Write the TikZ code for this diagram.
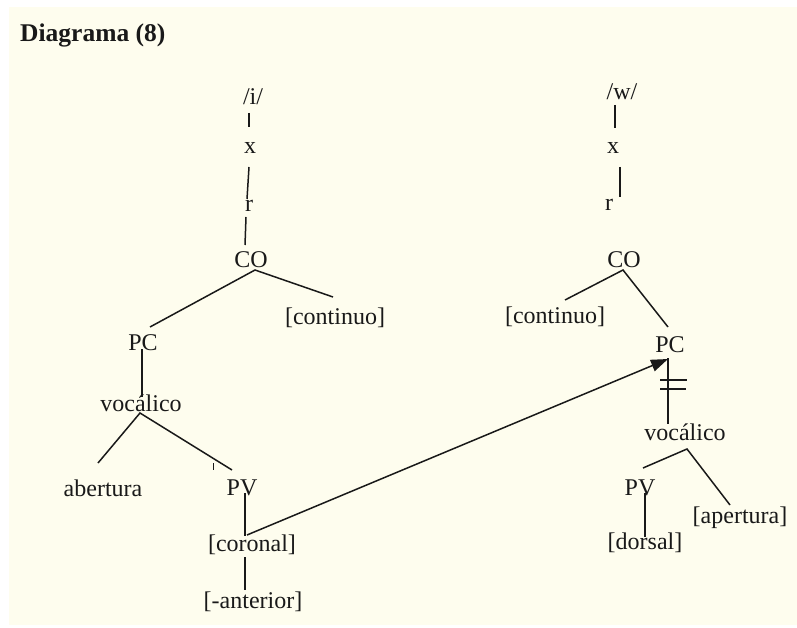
\documentclass[tikz,border=0pt]{standalone}
\usepackage{fontspec}
\setmainfont{Liberation Serif}
\usetikzlibrary{calc,arrows.meta}
\definecolor{paper}{RGB}{254,253,238}
\definecolor{ink}{RGB}{25,25,25}
\begin{document}
\begin{tikzpicture}[x=1pt,y=-1pt,
  lab/.style={inner sep=0pt,text=ink,font=\fontsize{24}{28}\selectfont},
  edge/.style={draw=ink,line width=1.5pt}]
\useasboundingbox (0,0) rectangle (797,628);
\fill[white] (0,0) rectangle (797,628);
\fill[paper] (9,7) rectangle (797,625);
\node[inner sep=0pt,anchor=base west,text=ink,font=\fontsize{25.5}{30}\selectfont\bfseries] (title) at (20,42) {Diagrama (8)};
% left tree
\node[lab] (i1) at (253,97) {/i/};
\node[lab] (x1) at (250,148) {x};
\node[lab] (r1) at (249,206) {r};
\node[lab] (CO1) at (251,260) {CO};
\node[lab] (cont1) at (335,318) {[continuo]};
\node[lab] (PC1) at (143,343) {PC};
\node[lab] (voc1) at (141,403) {vocálico};
\node[lab] (ab1) at (103,488) {abertura};
\node[lab] (PV1) at (242,488) {PV};
\node[lab] (cor1) at (252,545) {[coronal]};
\node[lab] (ant1) at (253,602) {[-anterior]};
% right tree
\node[lab] (w2) at (622,92) {/w/};
\node[lab] (x2) at (613,148) {x};
\node[lab] (r2) at (609,205) {r};
\node[lab] (CO2) at (624,260) {CO};
\node[lab] (cont2) at (555,317) {[continuo]};
\node[lab] (PC2) at (670,345) {PC};
\node[lab] (voc2) at (685,432) {vocálico};
\node[lab] (PV2) at (640,488) {PV};
\node[lab] (apr2) at (740,518) {[apertura]};
\node[lab] (dor2) at (645,543) {[dorsal]};
% left connectors
\draw[edge] ($(i1)+(-4,16)$) -- ($(x1)+(-1,-21)$);
\draw[edge] ($(x1)+(-1,19)$) -- ($(r1)+(-2,-7)$);
\draw[edge] ($(r1)+(-3,11)$) -- ($(CO1)+(-6,-15)$);
\draw[edge] ($(PC1)+(7,-16)$) -- ($(CO1)+(4,10)$) -- ($(cont1)+(-2,-21)$);
\draw[edge] ($(PC1)+(-1,6)$) -- ($(voc1)+(1,-6)$);
\draw[edge] ($(ab1)+(-5,-25)$) -- ($(voc1)+(-1,10)$) -- ($(PV1)+(-10,-18)$);
\draw[ink,line width=0.8pt] ($(PV1)+(-29,-25)$) -- ($(PV1)+(-29,-18)$);
\draw[edge] ($(PV1)+(3,5)$) -- ($(cor1)+(-7,-9)$);
\draw[edge] ($(cor1)+(-7,12)$) -- ($(ant1)+(-8,-12)$);
% right connectors
\draw[edge] ($(w2)+(-7,13)$) -- ($(x2)+(2,-20)$);
\draw[edge] ($(x2)+(7,19)$) -- ($(r2)+(11,-8)$);
\draw[edge] ($(cont2)+(10,-17)$) -- ($(CO2)+(-1,10)$) -- ($(PC2)+(-2,-18)$);
\draw[edge] ($(PC2)+(-2,13)$) -- ($(voc2)+(-17,-8)$);
\draw[edge] ($(PC2)+(-10,35)$) -- ($(PC2)+(17,35)$);
\draw[edge] ($(PC2)+(-10,44)$) -- ($(PC2)+(16,44)$);
\draw[edge] ($(PV2)+(3,-20)$) -- ($(voc2)+(2,17)$) -- ($(apr2)+(-10,-13)$);
\draw[edge] ($(PV2)+(5,5)$) -- ($(dor2)+(0,-6)$);
% arrow
\draw[edge,-{Triangle[length=17pt,width=12pt]}] ($(cor1)+(-5,-10)$) -- ($(PC2)+(-2,14)$);
\end{tikzpicture}
\end{document}
